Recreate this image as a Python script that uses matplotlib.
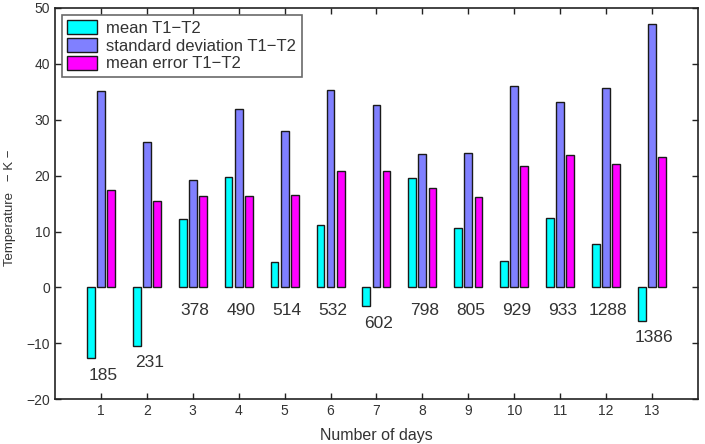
import numpy as np
import matplotlib
matplotlib.use("Agg")
import matplotlib.pyplot as plt

# ------------------ Data ------------------
groups = np.arange(1, 14)
mean_diff = [-12.7, -10.4, 12.3, 19.7, 4.5, 11.2, -3.4, 19.6, 10.6, 4.8, 12.4, 7.7, -6.0]
std_diff = [35.1, 26.1, 19.3, 31.9, 27.9, 35.3, 32.6, 23.9, 24.1, 36.0, 33.2, 35.6, 47.1]
mean_err = [17.5, 15.4, 16.4, 16.4, 16.6, 20.9, 20.8, 17.8, 16.2, 21.7, 23.7, 22.0, 23.3]
n_days = ['185', '231', '378', '490', '514', '532', '602', '798', '805', '929', '933', '1288', '1386']

plt.rcParams['font.family'] = ['Liberation Sans', 'DejaVu Sans']

fig = plt.figure(figsize=(7.05, 4.44), dpi=100)
ax = fig.add_axes([0.078, 0.101, 0.912, 0.881])

w = 0.17
off = 0.22
edge = '#1a1a1a'
ax.bar(groups - off, mean_diff, w, color='#00ffff', edgecolor=edge, linewidth=1, label='mean T1\u2212T2')
ax.bar(groups, std_diff, w, color='#8080ff', edgecolor=edge, linewidth=1, label='standard deviation T1\u2212T2')
ax.bar(groups + off, mean_err, w, color='#ff00ff', edgecolor=edge, linewidth=1, label='mean error T1\u2212T2')

# day counts under each group
for x, m, lab in zip(groups, mean_diff, n_days):
  y = m - 3.0 if m < 0 else -4.2
  ax.text(x + 0.05, y, lab, ha='center', va='center', fontsize=12.5, color='#333333')

ax.set_xlim(0, 14)
ax.set_ylim(-20, 50)
ax.set_xticks(groups)
ax.set_yticks(np.arange(-20, 51, 10))
ax.tick_params(direction='in', top=True, right=True, labelsize=10, length=4, width=1, colors='#222222')
ax.tick_params(labelcolor='#333333')
for s in ax.spines.values():
  s.set_linewidth(1.2)
  s.set_color('#222222')

ax.set_xlabel('Number of days', fontsize=11.5, color='#333333')
ax.set_ylabel('Temperature   \u2212 K \u2212', fontsize=9.5, color='#333333')
ax.yaxis.set_label_coords(-0.060, 0.49)
ax.xaxis.set_label_coords(0.5, -0.075)

leg = ax.legend(loc='upper left', fontsize=12, frameon=True, fancybox=False, borderpad=0.35,
                handlelength=1.8, handleheight=0.9, labelspacing=0.12, handletextpad=0.5,
                borderaxespad=0.4)
leg.get_frame().set_edgecolor('#444444')
leg.get_frame().set_linewidth(1.2)
for t in leg.get_texts():
  t.set_color('#333333')

fig.savefig('out.png', dpi=100)
